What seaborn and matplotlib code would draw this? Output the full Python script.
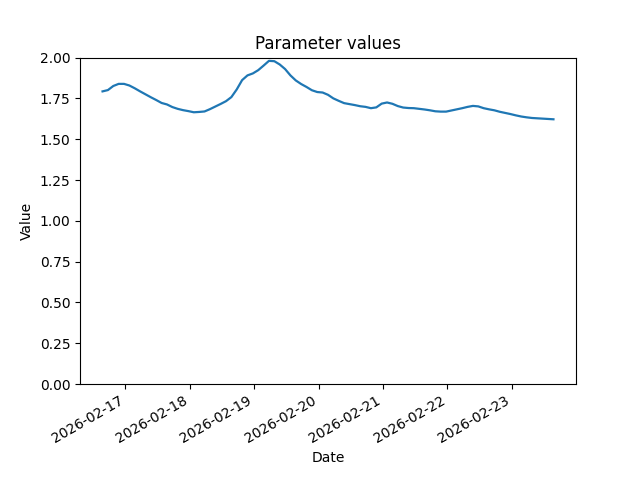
import matplotlib
matplotlib.use("Agg")
import matplotlib.pyplot as plt
import seaborn as sns
import pandas as pd

start_time = "2026-02-16 15:30"
step_hours = 2
values = [
    1.793, 1.801, 1.826, 1.839, 1.839, 1.829, 1.812, 1.793, 1.775, 1.757,
    1.740, 1.722, 1.713, 1.697, 1.686, 1.678, 1.672, 1.665, 1.667, 1.670,
    1.684, 1.700, 1.716, 1.733, 1.758, 1.805, 1.862, 1.891, 1.903, 1.923,
    1.951, 1.980, 1.978, 1.958, 1.930, 1.891, 1.860, 1.838, 1.820, 1.800,
    1.789, 1.786, 1.772, 1.750, 1.735, 1.721, 1.715, 1.709, 1.702, 1.698,
    1.690, 1.695, 1.718, 1.725, 1.717, 1.703, 1.694, 1.691, 1.690, 1.686,
    1.682, 1.677, 1.671, 1.669, 1.669, 1.676, 1.683, 1.690, 1.698, 1.704,
    1.701, 1.690, 1.683, 1.677, 1.668, 1.661, 1.654, 1.646, 1.639, 1.634,
    1.630, 1.628, 1.626, 1.624, 1.622,
]
dates = pd.date_range(start=start_time, periods=len(values), freq=f"{step_hours}h")

df = pd.DataFrame({"Date": dates, "Value": values})

fig, ax = plt.subplots(figsize=(6.4, 4.8), dpi=100)
sns.lineplot(data=df, x="Date", y="Value", ax=ax, color="#1f77b4", linewidth=1.6)
ax.set_ylim(0, 2.0)
ax.set_title("Parameter values")
ax.set_xlabel("Date")
ax.set_ylabel("Value")
fig.autofmt_xdate()
fig.savefig("out.png", dpi=100)
